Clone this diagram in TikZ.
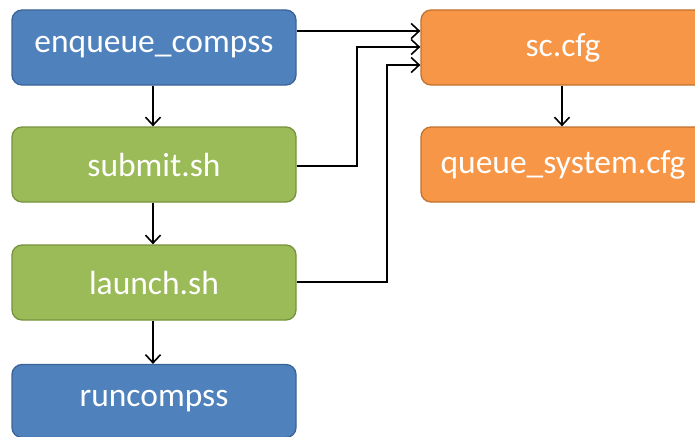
\documentclass[tikz,border=0pt]{standalone}
\usepackage{fontspec}
\setmainfont{Carlito}
\usetikzlibrary{arrows.meta}
\definecolor{bluefill}{HTML}{4F81BD}
\definecolor{blueline}{HTML}{3A6496}
\definecolor{greenfill}{HTML}{9BBB59}
\definecolor{greenline}{HTML}{76923C}
\definecolor{orangefill}{HTML}{F79646}
\definecolor{orangeline}{HTML}{C0722F}
\begin{document}
\begin{tikzpicture}[x=1pt,y=-1pt,
  box/.style={rounded corners=10pt, minimum width=284pt, minimum height=75pt, line width=1.3pt, text=white, font=\fontsize{33.5}{40}\selectfont, inner sep=0pt},
  bluebox/.style={box, fill=bluefill, draw=blueline},
  greenbox/.style={box, fill=greenfill, draw=greenline},
  orangebox/.style={box, fill=orangefill, draw=orangeline},
  conn/.style={line width=1.6pt, -{Straight Barb[length=8pt,width=15pt,line width=1.6pt]}}]
\useasboundingbox (0,0) rectangle (695,436);
\clip (0,0) rectangle (695,436);
\node[bluebox] (enq) at (154,47.5) {enqueue\_compss};
\node[greenbox] (sub) at (154,164.5) {submit.sh};
\node[greenbox] (lau) at (154,282.5) {launch.sh};
\node[bluebox, minimum height=73pt] (run) at (154,401) {runcompss};
\node[orangebox] (sc) at (563,47.5) {sc.cfg};
\node[orangebox] (qs) at (563,164.5) {queue\_system.cfg};
\coordinate (t1) at (sc.west |- 0,31);
\coordinate (t2) at (sc.west |- 0,47);
\coordinate (t3) at (sc.west |- 0,65);
\draw[conn] (enq.east |- t1) -- (t1);
\draw[conn] (sub.east |- 0,166) -| (357,47) -- (t2);
\draw[conn] (lau.east |- 0,282) -| (387,65) -- (t3);
\draw[conn] (enq.south -| 153,0) -- (sub.north -| 153,0);
\draw[conn] (sub.south -| 153,0) -- (lau.north -| 153,0);
\draw[conn] (lau.south -| 153,0) -- (run.north -| 153,0);
\draw[conn] (sc.south -| 562,0) -- (qs.north -| 562,0);
\end{tikzpicture}
\end{document}
